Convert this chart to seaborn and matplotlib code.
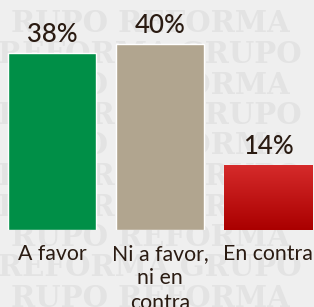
import numpy as np
import pandas as pd
import matplotlib
matplotlib.use('Agg')
import matplotlib.pyplot as plt
from matplotlib.colors import LinearSegmentedColormap
import seaborn as sns

# datos de la encuesta
categorias = ['A favor', 'Ni a favor,\nni en\ncontra', 'En contra']
valores = [38, 40, 14]
colores = ['#008f47', '#b1a58f', '#c81d1d']

# marca de agua del fondo (filas de texto)
marca_filas = ['RUPO REFORMA', 'REFORMA GRUPO', 'RUPO REFORMA', 'REFORMA GRUPO',
               'RUPO REFORMA', 'REFORMA GRUPO', 'REFORMA GRUPO', 'RUPO REFORMA',
               'REFORMA GRUPO', 'RUPO REFORMA']

sns.set_theme(style='white')
plt.rcParams['font.family'] = ['Lato', 'DejaVu Sans']

df = pd.DataFrame({'categoria': categorias, 'valor': valores})

fig = plt.figure(figsize=(3.14, 3.07), dpi=100)
fig.patch.set_facecolor('#efefef')

# capa de marca de agua (debajo de las barras)
wm = fig.add_axes([0, 0, 1, 1])
wm.set_axis_off()
wm.set_xlim(0, 314); wm.set_ylim(307, 0)
for i, t in enumerate(marca_filas):
    wm.text(150, 24 + i * 30.5, t, fontsize=21, fontweight='bold',
            family='DejaVu Serif', color='#e3e3e3', ha='center', va='center')

ax = fig.add_axes([0, 77 / 307, 1, 230 / 307])
ax.patch.set_alpha(0)
sns.barplot(data=df, x='categoria', y='valor', hue='categoria', palette=colores,
            width=0.815, saturation=1, legend=False, ax=ax)
ax.set_axis_off()

# degradado en la barra roja (como en el original)
roja = ax.patches[2]
x0, y0 = roja.get_x(), roja.get_y()
cmap = LinearSegmentedColormap.from_list('rojo', ['#aa0000', '#d62b2b'])
img = ax.imshow(np.linspace(0, 1, 64).reshape(-1, 1), cmap=cmap, origin='lower',
                extent=[x0, x0 + roja.get_width(), y0, y0 + roja.get_height()],
                aspect='auto', zorder=roja.get_zorder() + 0.1)
img.set_clip_path(roja)
ax.set_xlim(-0.482, 2.426)
ax.set_ylim(0, 49.4)

for i, v in enumerate(valores):
    ax.text(i, v + 1.3, f'{v}%', ha='center', va='bottom', fontsize=18.5,
            fontweight='medium', color='#2a1b12')

for i, c in enumerate(categorias):
    ax.text(i, -3.0, c, ha='center', va='top', fontsize=15.3, color='#2a1b12',
            linespacing=1.27)

fig.savefig('out.png', dpi=100, facecolor=fig.get_facecolor())
